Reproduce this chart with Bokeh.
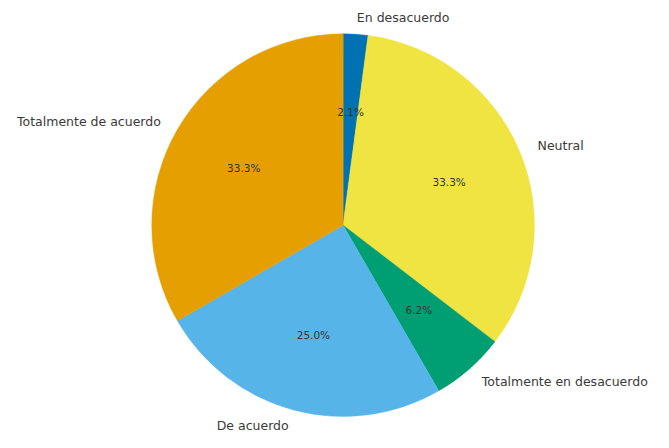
import math
from bokeh.plotting import figure
from bokeh.models import Range1d, ColumnDataSource
from bokeh.core.properties import value
from bokeh.embed import file_html
from bokeh.resources import INLINE

categories = ["En desacuerdo", "Neutral", "Totalmente en desacuerdo", "De acuerdo", "Totalmente de acuerdo"]
counts = [1, 16, 3, 12, 16]
colors = ["#0072B2", "#F0E442", "#009E73", "#56B4E9", "#E69F00"]

W, H = 653, 432
p = figure(width=W, height=H, output_backend="svg", toolbar_location=None,
           x_range=Range1d(0, 669), y_range=Range1d(0, 448),
           min_border=0)
p.axis.visible = False
p.grid.visible = False
p.outline_line_color = None
p.background_fill_color = "white"

cx, cy, r = 351, 448 - 233, 196
total = sum(counts)
cum = 0.0
starts, ends, lx, ly, la, px, py, pt = [], [], [], [], [], [], [], []
for c in counts:
    f0 = cum / total
    cum += c
    f1 = cum / total
    a_end = 90 - f0 * 360
    a_start = 90 - f1 * 360
    starts.append(math.radians(a_start))
    ends.append(math.radians(a_end))
    mid = math.radians((a_start + a_end) / 2)
    x1 = math.cos(mid)
    y1 = math.sin(mid)
    lx.append(cx + 1.1 * r * x1)
    ly.append(cy + 1.1 * r * y1)
    la.append("left" if x1 > 0 else "right")
    px.append(cx + 0.6 * r * x1)
    py.append(cy + 0.6 * r * y1)
    pt.append("%.1f%%" % (100.0 * c / total))

src = ColumnDataSource(dict(start=starts, end=ends, color=colors, lx=lx, ly=ly, la=la,
                            px=px, py=py, pt=pt, label=categories))
p.wedge(x=cx, y=cy, radius=r, start_angle="start", end_angle="end",
        direction="anticlock", fill_color="color", line_color="color", line_width=0.5, source=src)
p.text(x="lx", y="ly", text="label", text_align="la", text_baseline="middle",
       text_font=value("DejaVu Sans"), text_font_size="12.5px", text_color="#3a3a3a", source=src)
p.text(x="px", y="py", text="pt", text_align="center", text_baseline="middle",
       text_font=value("DejaVu Sans"), text_font_size="10.5px", text_color="#333333", source=src)

open("out.html", "w").write(file_html(p, INLINE))
